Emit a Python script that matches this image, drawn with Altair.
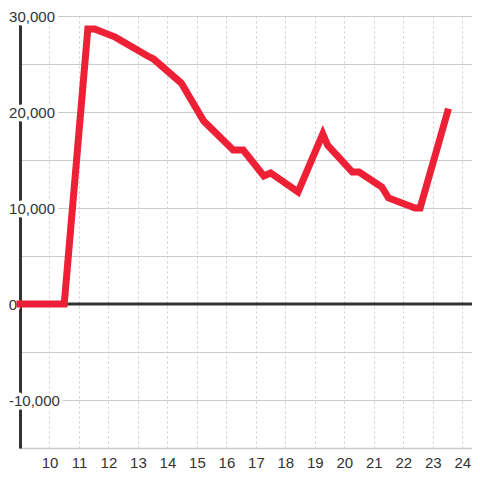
import altair as alt
import pandas as pd

# Line data
x_vals = [9.0, 10.5, 11.3, 11.53, 12.23, 13.33, 13.53, 14.47, 15.23, 16.23, 16.57,
          17.27, 17.5, 18.43, 19.27, 19.43, 20.27, 20.5, 21.27, 21.5, 22.4, 22.57, 23.5]
y_vals = [0, 0, 28650, 28650, 27800, 25830, 25520, 23020, 19060, 16040, 16040,
          13330, 13650, 11670, 17710, 16560, 13750, 13750, 12190, 11040, 10000, 10000, 20000]

x_ticks = list(range(10, 25))
y_grid = [-15000, -10000, -5000, 0, 5000, 10000, 15000, 20000, 25000, 30000]
y_label_pos = [30000, 20000, 10000]
y_label_pos_text = ["30,000", "20,000", "10,000"]
y_label_neg = [-10000]
y_label_neg_text = ["-10,000"]
zero_label = [0]
zero_label_text = ["0"]

X_DOMAIN = [9, 24.33]
Y_DOMAIN = [-15000, 30000]
FONT = "Liberation Sans"
TXT = "#333333"

line_df = pd.DataFrame({"x": x_vals, "y": y_vals})
pos_df = pd.DataFrame({"v": y_label_pos, "t": y_label_pos_text, "x": [X_DOMAIN[0]] * 3})
neg_df = pd.DataFrame({"v": y_label_neg, "t": y_label_neg_text, "x": [X_DOMAIN[0]]})
zero_df = pd.DataFrame({"v": zero_label, "t": zero_label_text, "x": [X_DOMAIN[0]]})

xscale = alt.Scale(domain=X_DOMAIN, nice=False, zero=False)
yscale = alt.Scale(domain=Y_DOMAIN, nice=False, zero=False)

x_axis = alt.Axis(values=x_ticks, title=None, ticks=False, labelFontSize=15,
                  labelFont=FONT, labelColor=TXT, labelPadding=7,
                  labelOverlap=False, labelFlush=False,
                  domainColor="#cccccc", domainWidth=1.5,
                  grid=True, gridColor="#cccccc", gridDash=[2, 3], gridWidth=1)
y_axis = alt.Axis(values=y_grid, title=None, ticks=False, labels=False,
                  domainColor="#333333", domainWidth=3,
                  grid=True, gridColor="#cccccc", gridWidth=1)

base_line = alt.Chart(line_df).mark_line(
    color="#ee2035", strokeWidth=7, strokeCap="square", strokeJoin="miter"
).encode(
    x=alt.X("x:Q", scale=xscale, axis=x_axis),
    y=alt.Y("y:Q", scale=yscale, axis=y_axis),
)

zero_rule = alt.Chart(zero_df).mark_rule(color="#333333", strokeWidth=3).encode(
    y=alt.Y("v:Q", scale=yscale, axis=y_axis)
)

def label_layer(df, dx, halo, align="right"):
    props = dict(align=align, baseline="middle", dx=dx, dy=1, fontSize=15, font=FONT)
    if halo:
        m = alt.Chart(df).mark_text(color="white", stroke="white", strokeWidth=7,
                                    strokeJoin="round", **props)
    else:
        m = alt.Chart(df).mark_text(color=TXT, **props)
    return m.encode(
        x=alt.X("x:Q", scale=xscale, axis=x_axis),
        y=alt.Y("v:Q", scale=yscale, axis=y_axis),
        text=alt.Text("t:N"),
    )

chart = alt.layer(
    zero_rule,
    label_layer(pos_df, 35, True),
    label_layer(pos_df, 35, False),
    label_layer(neg_df, -11, True, "left"),
    label_layer(neg_df, -11, False, "left"),
    label_layer(zero_df, -3, True),
    label_layer(zero_df, -3, False),
    base_line,
).properties(
    width=452, height=432,
    autosize=alt.AutoSizeParams(type="none"),
    padding={"left": 12, "top": 8, "right": 0, "bottom": 24},
).configure_view(stroke=None).configure(background="white")

chart.save("out.html", embed_options={"renderer": "svg", "actions": False})
